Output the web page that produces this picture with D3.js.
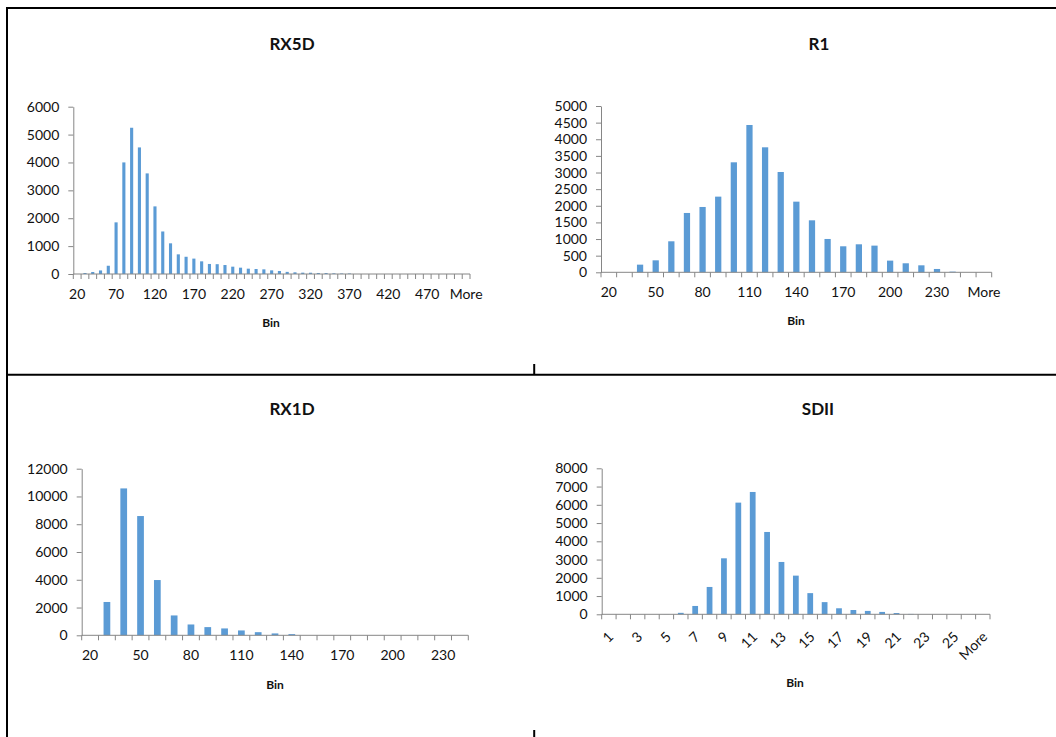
<!DOCTYPE html>
<html>
<head>
<meta charset="utf-8">
<script src="https://cdn.jsdelivr.net/npm/d3@7"></script>
<style>
  html, body { margin: 0; padding: 0; background: #fff; }
  svg { display: block; font-family: Lato, "Open Sans", sans-serif; }
</style>
</head>
<body>
<svg id="chart" width="1056" height="737"></svg>
<script>
// ---------------- DATA ----------------
const rx5dCategories = ["20","30","40","50","60","70","80","90","100","110","120","130","140","150","160","170","180","190","200","210","220","230","240","250","260","270","280","290","300","310","320","330","340","350","360","370","380","390","400","410","420","430","440","450","460","470","480","490","500","510","More"];
const rx5dValues = [0,36,72,128,296,1852,4002,5245,4540,3608,2425,1525,1100,705,618,552,454,360,352,322,263,227,191,179,167,131,108,76,60,48,46,36,34,24,18,18,0,0,0,0,0,0,0,0,0,0,0,0,0,0,0];
const rx5dTickLabels = ["20","70","120","170","220","270","320","370","420","470","More"];
const rx5dYTicks = [0,1000,2000,3000,4000,5000,6000];

const r1Categories = ["20","30","40","50","60","70","80","90","100","110","120","130","140","150","160","170","180","190","200","210","220","230","240","250","More"];
const r1Values = [0,0,230,360,932,1784,1964,2275,3307,4429,3758,3016,2124,1563,1002,782,842,802,351,271,210,100,20,0,0];
const r1TickLabels = ["20","50","80","110","140","170","200","230","More"];
const r1YTicks = [0,500,1000,1500,2000,2500,3000,3500,4000,4500,5000];

const rx1dCategories = ["20","30","40","50","60","70","80","90","100","110","120","130","140","150","160","170","180","190","200","210","220","230","240"];
const rx1dValues = [0,2400,10580,8590,3980,1430,780,590,495,350,225,135,85,0,0,0,0,0,0,0,0,0,0];
const rx1dTickLabels = ["20","50","80","110","140","170","200","230"];
const rx1dYTicks = [0,2000,4000,6000,8000,10000,12000];

const sdiiCategories = ["1","2","3","4","5","6","7","8","9","10","11","12","13","14","15","16","17","18","19","20","21","22","23","24","25","26","More"];
const sdiiValues = [0,0,0,0,5,80,457,1498,3068,6119,6703,4511,2868,2119,1160,667,330,235,185,130,70,20,0,0,0,0,0];
const sdiiTickLabels = ["1","3","5","7","9","11","13","15","17","19","21","23","25","More"];
const sdiiYTicks = [0,1000,2000,3000,4000,5000,6000,7000,8000];

const titles = ["RX5D","R1","RX1D","SDII"];
const axisTitle = "Bin";

// ---------------- LAYOUT ----------------
const svg = d3.select("#chart");
const BAR = "#5B9BD5", AXIS = "#868686", TEXT = "#111111";

// frame lines
const frame = svg.append("g").attr("stroke", "#000").attr("stroke-width", 2);
frame.append("line").attr("x1", 7).attr("x2", 7).attr("y1", 7).attr("y2", 737);
frame.append("line").attr("x1", 6).attr("x2", 1056).attr("y1", 8).attr("y2", 8);
frame.append("line").attr("x1", 6).attr("x2", 1056).attr("y1", 374.7).attr("y2", 374.7);
frame.append("line").attr("x1", 534.2).attr("x2", 534.2).attr("y1", 364).attr("y2", 374);
frame.append("line").attr("x1", 534.2).attr("x2", 534.2).attr("y1", 730).attr("y2", 737);

const panels = [
  {cats: rx5dCategories, vals: rx5dValues, labels: rx5dTickLabels, yTicks: rx5dYTicks, title: titles[0],
   l: 73.3, r: 470, t: 106.7, b: 274, tx: 292, ty: 50, bx: 271, by: 327, rotate: false},
  {cats: r1Categories, vals: r1Values, labels: r1TickLabels, yTicks: r1YTicks, title: titles[1],
   l: 601, r: 991.7, t: 106, b: 272.3, tx: 819, ty: 50, bx: 796, by: 325, rotate: false},
  {cats: rx1dCategories, vals: rx1dValues, labels: rx1dTickLabels, yTicks: rx1dYTicks, title: titles[2],
   l: 81.7, r: 468.3, t: 468.7, b: 635.3, tx: 292, ty: 415, bx: 275, by: 689, rotate: false},
  {cats: sdiiCategories, vals: sdiiValues, labels: sdiiTickLabels, yTicks: sdiiYTicks, title: titles[3],
   l: 601.7, r: 990, t: 468.3, b: 614.3, tx: 818, ty: 415, bx: 795, by: 687, rotate: true}
];

panels.forEach(p => {
  const g = svg.append("g");
  const x = d3.scaleBand().domain(p.cats).range([p.l, p.r]).padding(0);
  const ymax = p.yTicks[p.yTicks.length - 1];
  const y = d3.scaleLinear().domain([0, ymax]).range([p.b, p.t]);
  const bw = x.bandwidth();

  // bars
  g.append("g").selectAll("rect")
    .data(p.cats.map((c, i) => ({c, v: p.vals[i]})))
    .join("rect")
    .attr("x", d => x(d.c) + bw * 0.3)
    .attr("width", bw * 0.4)
    .attr("y", d => y(d.v))
    .attr("height", d => y(0) - y(d.v))
    .attr("fill", BAR);

  // y axis
  const ya = g.append("g").attr("transform", `translate(${p.l},0)`)
    .call(d3.axisLeft(y).tickValues(p.yTicks).tickSize(5).tickSizeOuter(0).tickPadding(9).tickFormat(d3.format("d")));
  ya.select(".domain").attr("stroke", AXIS);
  ya.selectAll(".tick line").attr("stroke", AXIS);
  ya.selectAll(".tick text").attr("fill", TEXT).style("font-size", "14px").style("font-family", "Lato, sans-serif");

  // x axis line
  g.append("line").attr("x1", p.l).attr("x2", p.r).attr("y1", p.b).attr("y2", p.b)
    .attr("stroke", AXIS).attr("stroke-width", 1);
  // x tick marks at category boundaries
  const bounds = p.cats.map(c => x(c)).concat([x(p.cats[p.cats.length - 1]) + bw]);
  g.append("g").selectAll("line").data(bounds).join("line")
    .attr("x1", d => d).attr("x2", d => d).attr("y1", p.b).attr("y2", p.b + 5)
    .attr("stroke", AXIS).attr("stroke-width", 1);

  // x labels
  const lab = g.append("g").selectAll("text").data(p.cats.filter(c => p.labels.includes(c))).join("text")
    .attr("fill", TEXT).style("font-size", "14px").text(d => d);
  if (p.rotate) {
    lab.attr("text-anchor", "end").attr("dy", "0.35em")
      .attr("transform", d => `translate(${x(d) + bw / 2 + 2},${p.b + 20}) rotate(-45)`);
  } else {
    lab.attr("text-anchor", "middle")
      .attr("x", d => x(d) + bw / 2).attr("y", p.b + 25);
  }

  // titles
  g.append("text").attr("x", p.tx).attr("y", p.ty).attr("text-anchor", "middle")
    .attr("fill", TEXT).style("font-size", "17px").style("font-weight", "bold").text(p.title);
  g.append("text").attr("x", p.bx).attr("y", p.by).attr("text-anchor", "middle")
    .attr("fill", TEXT).style("font-size", "12px").style("font-weight", "bold").text(axisTitle);
});
</script>
</body>
</html>
